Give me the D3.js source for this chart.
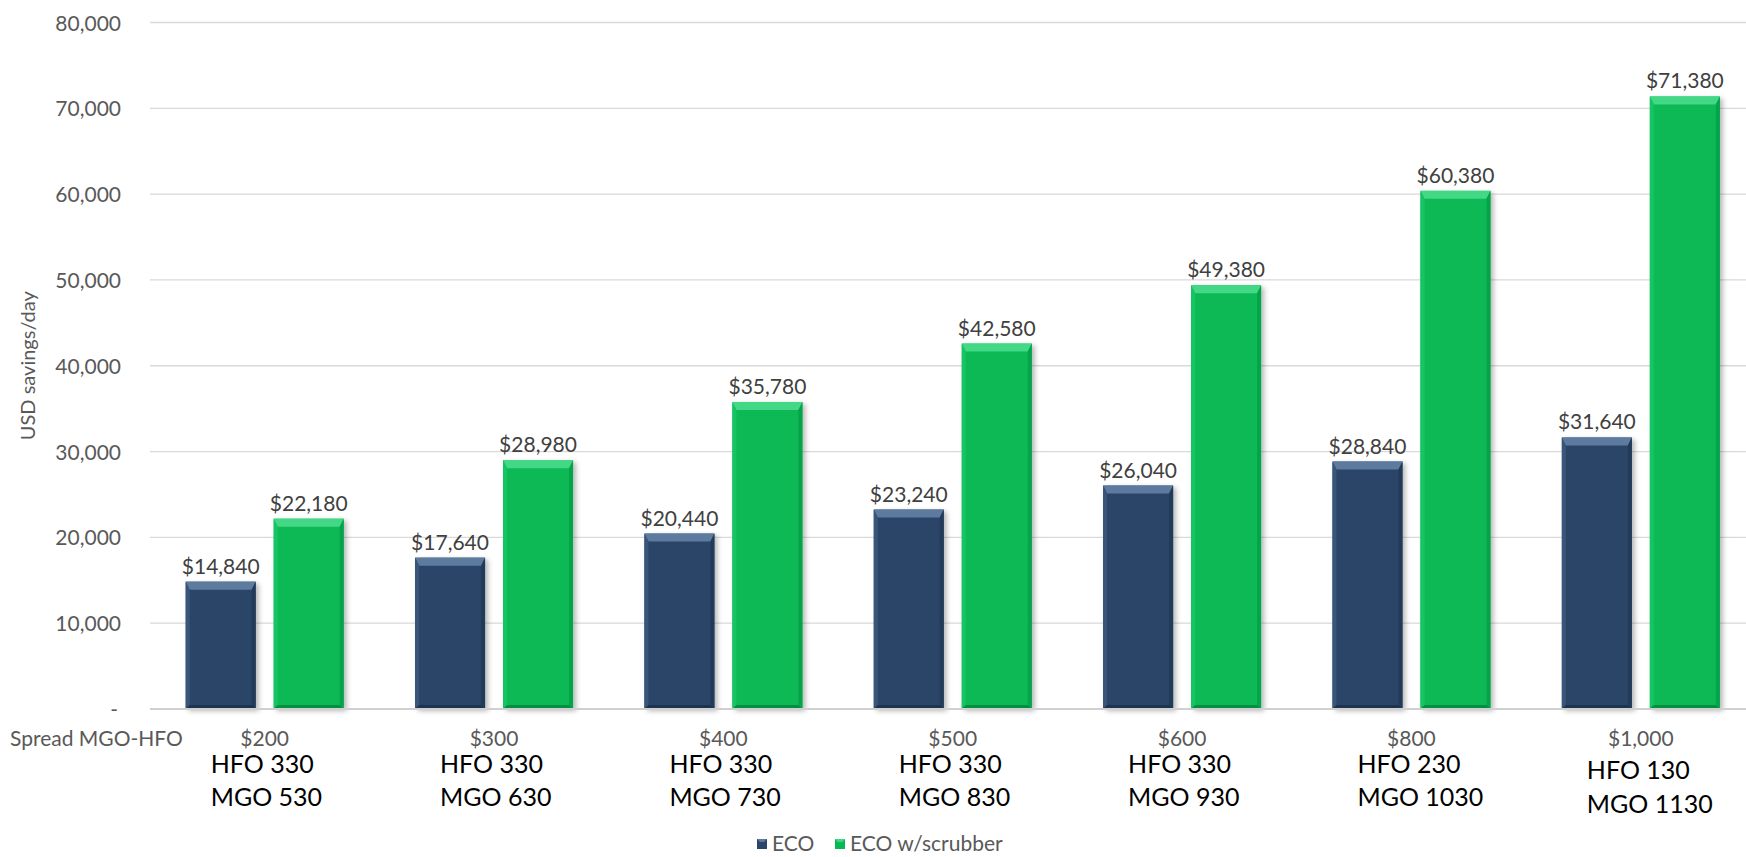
<!DOCTYPE html>
<html>
<head>
<meta charset="utf-8">
<script src="https://cdn.jsdelivr.net/npm/d3@7"></script>
<style>
  body { margin: 0; background: #fff; }
  text { font-family: Lato, "Open Sans", sans-serif; }
</style>
</head>
<body>
<div id="chart"></div>
<script>
// Chart data
const spreads = ["$200", "$300", "$400", "$500", "$600", "$800", "$1,000"];
const hfoLabels = ["HFO 330", "HFO 330", "HFO 330", "HFO 330", "HFO 330", "HFO 230", "HFO 130"];
const mgoLabels = ["MGO 530", "MGO 630", "MGO 730", "MGO 830", "MGO 930", "MGO 1030", "MGO 1130"];
const seriesNames = ["ECO", "ECO w/scrubber"];
const ecoValues = [14840, 17640, 20440, 23240, 26040, 28840, 31640];
const scrubberValues = [22180, 28980, 35780, 42580, 49380, 60380, 71380];
const yTicks = [0, 10000, 20000, 30000, 40000, 50000, 60000, 70000, 80000];

const W = 1746, H = 857;
const plot = { left: 150, right: 1755.5, top: 22.5, bottom: 709 };

const colors = {
  "ECO": { fill: "#2c4568", top: "#5d7a9f", left: "#3a5579", right: "#233a59", bottom: "#1e3350" },
  "ECO w/scrubber": { fill: "#07b955", top: "#43d886", left: "#15c462", right: "#05a34a", bottom: "#048f40" }
};

const rows = spreads.map((s, i) => ({
  spread: s, hfo: hfoLabels[i], mgo: mgoLabels[i],
  values: [
    { key: seriesNames[0], value: ecoValues[i] },
    { key: seriesNames[1], value: scrubberValues[i] }
  ]
}));

const svg = d3.select("#chart").append("svg")
  .attr("width", W).attr("height", H);

// soft drop shadow for the bars
const defs = svg.append("defs");
const f = defs.append("filter").attr("id", "shadow")
  .attr("x", "-20%").attr("y", "-10%").attr("width", "150%").attr("height", "130%");
f.append("feDropShadow").attr("dx", 3).attr("dy", 2).attr("stdDeviation", 2.5)
  .attr("flood-color", "#000").attr("flood-opacity", 0.28);

const x0 = d3.scaleBand().domain(spreads).range([plot.left, plot.right]).padding(0);
const x1 = d3.scaleBand().domain(seriesNames)
  .range([35.7, 193.7]).paddingInner(0.2045);
const y = d3.scaleLinear().domain([0, 80000]).range([plot.bottom, plot.top]);

// gridlines
svg.append("g")
  .selectAll("line")
  .data(yTicks.filter(d => d > 0))
  .join("line")
  .attr("x1", plot.left).attr("x2", W)
  .attr("y1", d => y(d)).attr("y2", d => y(d))
  .attr("stroke", "#d9d9d9").attr("stroke-width", 1.3);

// y axis labels
const yAxis = svg.append("g")
  .attr("transform", `translate(${plot.left}, 0)`)
  .call(d3.axisLeft(y).tickValues(yTicks).tickSize(0).tickPadding(29)
    .tickFormat(d => d === 0 ? "-" : d3.format(",")(d)));
yAxis.select(".domain").remove();
yAxis.selectAll("text")
  .style("font-size", "21px").attr("fill", "#595959")
  .attr("dy", "0.36em");
yAxis.selectAll(".tick").filter(d => d === 0).select("text").attr("dx", "-3px");

// y axis title
svg.append("text")
  .attr("transform", "rotate(-90)")
  .attr("x", -(plot.top + plot.bottom) / 2)
  .attr("y", 35)
  .attr("text-anchor", "middle")
  .style("font-size", "20px")
  .attr("fill", "#595959")
  .text("USD savings/day");

// bars with bevel
const groups = svg.append("g").selectAll("g")
  .data(rows)
  .join("g")
  .attr("transform", d => `translate(${x0(d.spread)}, 0)`);

const bars = groups.selectAll("g.bar")
  .data(d => d.values)
  .join("g").attr("class", "bar");

bars.each(function (d) {
  const g = d3.select(this);
  const c = colors[d.key];
  const a = x1(d.key), b = a + x1.bandwidth();
  const t = y(d.value), btm = y(0);
  const bt = 8, bs = 4, bb = 4;
  g.append("rect")
    .attr("x", a).attr("y", t)
    .attr("width", b - a).attr("height", btm - t)
    .attr("fill", c.fill).attr("filter", "url(#shadow)");
  const poly = (pts, fill) => g.append("polygon")
    .attr("points", pts.map(p => p.join(",")).join(" "))
    .attr("fill", fill);
  poly([[a, t], [b, t], [b - bs, t + bt], [a + bs, t + bt]], c.top);
  poly([[a, t], [a + bs, t + bt], [a + bs, btm - bb], [a, btm]], c.left);
  poly([[b, t], [b, btm], [b - bs, btm - bb], [b - bs, t + bt]], c.right);
  poly([[a, btm], [a + bs, btm - bb], [b - bs, btm - bb], [b, btm]], c.bottom);
  g.append("text")
    .attr("x", (a + b) / 2)
    .attr("y", t - 8)
    .attr("text-anchor", "middle")
    .style("font-size", "21px")
    .attr("fill", "#404040")
    .text("$" + d3.format(",")(d.value));
});

// baseline
svg.append("line")
  .attr("x1", plot.left).attr("x2", W)
  .attr("y1", y(0)).attr("y2", y(0))
  .attr("stroke", "#d0d0d0").attr("stroke-width", 2);

// category labels
groups.append("text")
  .attr("x", x0.bandwidth() / 2)
  .attr("y", 746)
  .attr("text-anchor", "middle")
  .style("font-size", "21px")
  .attr("fill", "#595959")
  .text(d => d.spread);

groups.append("text")
  .attr("x", x0.bandwidth() / 2 - 54)
  .attr("y", (d, i) => i === spreads.length - 1 ? 779 : 773)
  .style("font-size", "25px")
  .attr("fill", "#000")
  .text(d => d.hfo);

groups.append("text")
  .attr("x", x0.bandwidth() / 2 - 54)
  .attr("y", (d, i) => i === spreads.length - 1 ? 813 : 806)
  .style("font-size", "25px")
  .attr("fill", "#000")
  .text(d => d.mgo);

svg.append("text")
  .attr("x", 10).attr("y", 746)
  .style("font-size", "21px")
  .attr("fill", "#595959")
  .text("Spread MGO-HFO");

// legend
const legendX = [757, 835];
const legend = svg.append("g").selectAll("g")
  .data(seriesNames)
  .join("g")
  .attr("transform", (d, i) => `translate(${legendX[i]}, 839)`);
legend.append("rect")
  .attr("width", 10).attr("height", 10)
  .attr("fill", d => colors[d].fill);
legend.append("polygon")
  .attr("points", "0,0 10,0 7,3 3,3")
  .attr("fill", d => colors[d].top);
legend.append("text")
  .attr("x", 15).attr("y", 12)
  .style("font-size", "21px")
  .attr("fill", "#595959")
  .text(d => d);
</script>
</body>
</html>
